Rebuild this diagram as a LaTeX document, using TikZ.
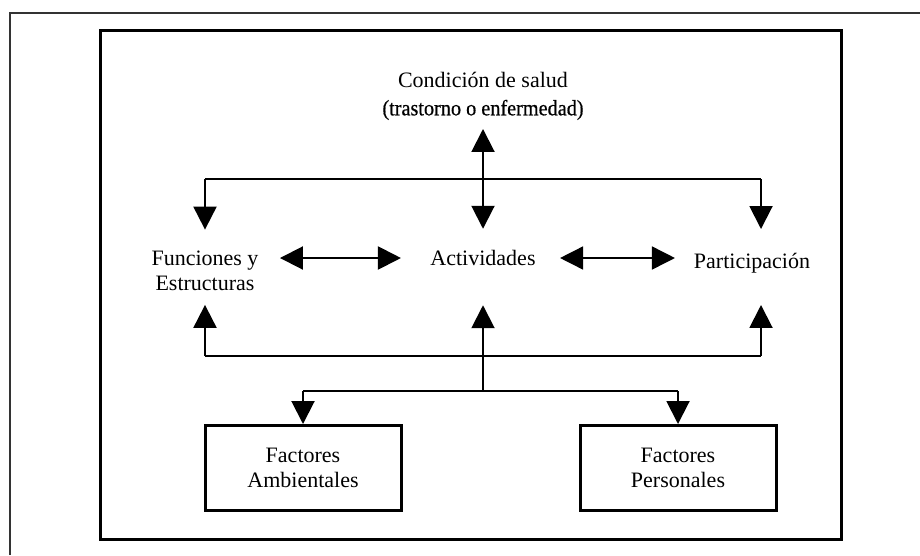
\documentclass[tikz,border=0pt]{standalone}
\usepackage{fontspec}
\setmainfont{Liberation Serif}
\newfontfamily\narrowfont[FakeStretch=0.92,FakeBold=0.6]{Liberation Serif}
\usetikzlibrary{arrows.meta}

\begin{document}
\begin{tikzpicture}[x=1pt, y=-1pt, line width=2pt,
    tip/.style={-{Triangle[length=23pt,width=23pt]}},
    bitip/.style={{Triangle[length=23pt,width=23pt]}-{Triangle[length=23pt,width=23pt]}},
    lbl/.style={font=\fontsize{22}{25}\selectfont, align=center, inner sep=0pt},
    factor/.style={draw, line width=3pt, minimum width=196pt, minimum height=85pt,
        font=\fontsize{22}{25}\selectfont, align=center}]
    \useasboundingbox (0,0) rectangle (920,555);

    % Frames
    \draw[black!80] (10,555) -- (10,13) -- (920,13);
    \draw[line width=3pt] (100,30) rectangle (841,539);

    % Labels
    \node[lbl] (salud) at (483,96) {Condición de salud\\[3pt]{\narrowfont\fontsize{22}{25}\selectfont (trastorno o enfermedad)}};
    \node[lbl] (func) at (205,271) {Funciones y\\Estructuras};
    \node[lbl] (activ) at (483,258) {Actividades};
    \node[lbl] (part) at (752,263) {Participación};
    \node[factor] (amb) at (303,468) {Factores\\Ambientales};
    \node[factor] (pers) at (678,468) {Factores\\Personales};

    % Buses
    \coordinate (topL) at (205,179);
    \coordinate (topR) at (761,179);
    \coordinate (botL) at (205,356);
    \coordinate (botR) at (761,356);
    \coordinate (junc) at (483,391);
    \draw (topL) -- (topR);
    \draw (botL) -- (botR);
    \draw (amb.north |- junc) -- (pers.north |- junc);

    % Top arrows
    \draw[bitip, shorten <=8pt, shorten >=20.5pt] (salud.south) -- (activ.north);
    \draw[tip, shorten >=20.5pt] (topL) -- (func.north);
    \draw[tip, shorten >=23pt] (topR) -- (topR |- part.north);

    % Middle arrows
    \draw[bitip, shorten <=20.5pt, shorten >=28.5pt] (func.east |- activ.center) -- (activ.west);
    \draw[bitip, line width=1.5pt, shorten <=23.5pt, shorten >=18pt] (activ.east) -- (activ.east -| part.west);

    % Bottom arrows
    \draw[tip, shorten >=13pt] (botL) -- (func.south);
    \draw[tip, shorten >=38.5pt] (junc) -- (activ.south);
    \draw[tip, shorten >=31pt] (botR) -- (botR |- part.south);
    \draw[tip] (amb.north |- junc) -- (amb.north);
    \draw[tip] (pers.north |- junc) -- (pers.north);
\end{tikzpicture}
\end{document}
